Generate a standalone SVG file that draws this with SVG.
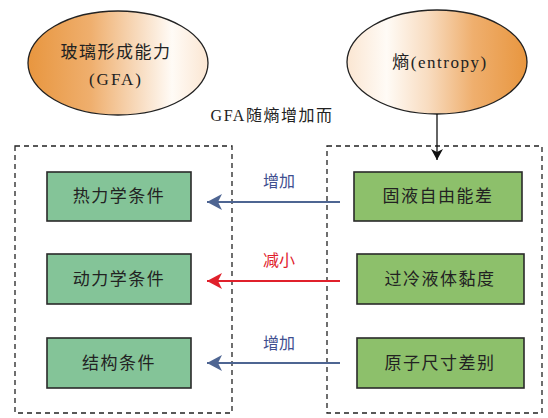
<svg xmlns="http://www.w3.org/2000/svg" width="548" height="418" viewBox="0 0 548 418">
<defs>
<linearGradient id="gL" x1="0" y1="0" x2="1" y2="0">
<stop offset="0" stop-color="#E8963F"/>
<stop offset="0.35" stop-color="#EFAF6E"/>
<stop offset="0.62" stop-color="#F8DCC0"/>
<stop offset="0.8" stop-color="#FFFBF6"/>
<stop offset="1" stop-color="#FBE6D2"/>
</linearGradient>
<linearGradient id="gR" x1="0" y1="0" x2="1" y2="0">
<stop offset="0" stop-color="#FBE6D2"/>
<stop offset="0.22" stop-color="#FFFBF6"/>
<stop offset="0.45" stop-color="#F8DCC0"/>
<stop offset="0.7" stop-color="#EFAF6E"/>
<stop offset="1" stop-color="#E8963F"/>
</linearGradient>
<marker id="aBlue" viewBox="0 0 16 16" refX="15" refY="8" markerWidth="16" markerHeight="16" markerUnits="userSpaceOnUse" orient="auto">
<path d="M0,0 L15,8 L0,16 L4,8 Z" fill="#4E6592"/>
</marker>
<marker id="aRed" viewBox="0 0 16 16" refX="15" refY="8" markerWidth="16" markerHeight="16" markerUnits="userSpaceOnUse" orient="auto">
<path d="M0,0 L15,8 L0,16 L4,8 Z" fill="#E0202B"/>
</marker>
<marker id="aBlack" viewBox="0 0 12 12" refX="11" refY="6" markerWidth="12" markerHeight="12" markerUnits="userSpaceOnUse" orient="auto">
<path d="M0,0 L11,6 L0,12 L3,6 Z" fill="#111"/>
</marker>
</defs>
<style>
.t{font-family:"Liberation Serif","Noto Sans CJK SC",serif;fill:#222;text-anchor:middle;dominant-baseline:central}
.bx{font-size:17px;letter-spacing:1.5px}
.dash{fill:none;stroke:#222;stroke-width:1.3;stroke-dasharray:5,4}
.gl{fill:#84C498;stroke:#2a2a2a;stroke-width:1.6}
.gr{fill:#8DC06B;stroke:#2a2a2a;stroke-width:1.6}
.el{stroke:#222;stroke-width:1.3}
.lb{font-family:"Noto Sans CJK SC",sans-serif;font-size:16px;text-anchor:middle;dominant-baseline:central}
</style>

<g id="container-left"><rect class="dash" x="15" y="146" width="217" height="267"/></g>
<g id="container-right"><rect class="dash" x="327" y="146" width="215" height="267"/></g>

<g id="gfa">
<ellipse class="el" cx="118" cy="63" rx="90" ry="52" fill="url(#gL)"/>
<text class="t" x="116" y="52" font-size="17" letter-spacing="1.5">玻璃形成能力</text>
<text class="t" x="116" y="79" font-size="17" letter-spacing="2">(GFA)</text>
</g>
<g id="entropy">
<ellipse class="el" cx="437" cy="62" rx="90" ry="52" fill="url(#gR)"/>
<text class="t" x="440" y="62" font-size="17" letter-spacing="1.5">熵(entropy)</text>
</g>

<g id="caption"><text class="t" x="272" y="115" font-size="16" letter-spacing="1.5">GFA随熵增加而</text></g>

<g id="n-thermo"><rect class="gl" x="47" y="172" width="144" height="49"/><text class="t bx" x="119" y="196">热力学条件</text></g>
<g id="n-kinetic"><rect class="gl" x="47" y="254" width="144" height="50"/><text class="t bx" x="119" y="279">动力学条件</text></g>
<g id="n-struct"><rect class="gl" x="47" y="338" width="144" height="50"/><text class="t bx" x="119" y="363">结构条件</text></g>

<g id="n-gibbs"><rect class="gr" x="354" y="172" width="168" height="49"/><text class="t bx" x="438" y="196">固液自由能差</text></g>
<g id="n-visc"><rect class="gr" x="357" y="254" width="167" height="50"/><text class="t bx" x="440" y="279">过冷液体黏度</text></g>
<g id="n-size"><rect class="gr" x="357" y="338" width="167" height="50"/><text class="t bx" x="440" y="363">原子尺寸差别</text></g>

<g id="connectors">
<line x1="437" y1="114" x2="437" y2="160" stroke="#111" stroke-width="1.3" marker-end="url(#aBlack)"/>
<line x1="340" y1="202" x2="207" y2="202" stroke="#4E6592" stroke-width="2" marker-end="url(#aBlue)"/>
<line x1="340" y1="281" x2="207" y2="281" stroke="#E0202B" stroke-width="2" marker-end="url(#aRed)"/>
<line x1="340" y1="363" x2="207" y2="363" stroke="#4E6592" stroke-width="2" marker-end="url(#aBlue)"/>
<text class="lb" x="279" y="180" fill="#3F4F8F">增加</text>
<text class="lb" x="279" y="259" fill="#E0202B">减小</text>
<text class="lb" x="279" y="342" fill="#3F4F8F">增加</text>
</g>
</svg>
